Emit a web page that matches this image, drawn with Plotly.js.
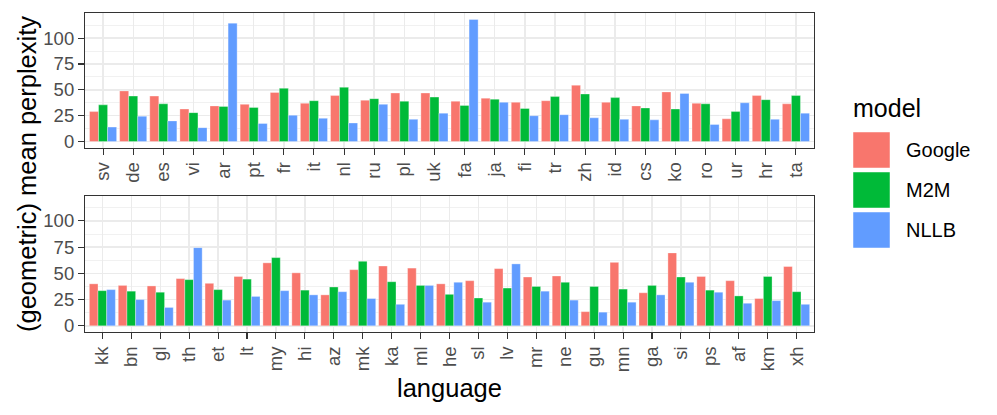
<!DOCTYPE html>
<html>
<head>
<meta charset="utf-8">
<script src="https://cdn.plot.ly/plotly-3.0.1.min.js"></script>
<style>html,body{margin:0;padding:0;background:#fff;}</style>
</head>
<body>
<div id="chart" style="width:997px;height:415px;"></div>
<script>
// ---- data ----
const models = ["Google", "M2M", "NLLB"];
const modelColors = ["#F8766D", "#00BA38", "#619CFF"];

const langsTop = ["sv","de","es","vi","ar","pt","fr","it","nl","ru","pl","uk","fa","ja","fi","tr","zh","id","cs","ko","ro","ur","hr","ta"];
const googleTop = [29, 49, 44, 31.5, 34.5, 36, 47.5, 37, 44.5, 40, 47, 47, 39, 42, 38, 39.5, 54.5, 38, 34.5, 48, 37, 22, 44.5, 36.5];
const m2mTop    = [35.5, 44, 36.5, 28, 34, 33, 51.5, 39.5, 52.5, 41.5, 39, 43, 35, 41, 32, 43.5, 46, 42.5, 32.5, 31.5, 36.5, 29, 40.5, 44.5];
const nllbTop   = [14, 24.5, 20, 13.5, 114.5, 17.5, 25.5, 22.5, 18, 36, 21.5, 27.5, 118, 38, 25, 26, 23, 21.5, 21, 46.5, 16.5, 37.5, 21.5, 27.5];

const langsBot = ["kk","bn","gl","th","et","lt","my","hi","az","mk","ka","ml","he","sl","lv","mr","ne","gu","mn","ga","si","ps","af","km","xh"];
const googleBot = [40, 38.5, 38, 45, 40.5, 47, 60, 50.5, 29.5, 53.5, 57, 55, 40, 43, 54.5, 46.5, 47.5, 13.5, 60.5, 31.5, 69.5, 47, 43, 26, 56.5];
const m2mBot    = [33.5, 33, 32, 44, 34.5, 44.5, 65, 34, 37, 61.5, 42, 38.5, 30, 26.5, 36, 37.5, 41.5, 37.5, 35, 38.5, 46.5, 34, 28.5, 47, 32.5];
const nllbBot   = [34.5, 25, 17.5, 74.5, 24.5, 28, 33.5, 29.5, 32.5, 26, 20.5, 38.5, 41.5, 22.5, 59, 33, 24.5, 13, 22.5, 29.5, 41.5, 32, 21.5, 24, 20.5];

const yTicks = [0, 25, 50, 75, 100];
const yMinor = [12.5, 37.5, 62.5, 87.5, 112.5];

// ---- geometry helpers (pixel -> paper) ----
const W = 997, H = 415;
const M = {l: 85, r: 183, t: 13, b: 83};
const PW = W - M.l - M.r, PH = H - M.t - M.b;
const px = x => (x - M.l) / PW;
const py = y => (H - M.b - y) / PH;

const gridC = "#EBEBEB", lineC = "#333333", tickTxt = "#4D4D4D";
const FONT = "Liberation Sans, Arial, sans-serif";
const TICK_SIZE = 18.5, TITLE_SIZE = 25.5;

const traces = [];
const topSeries = [googleTop, m2mTop, nllbTop];
const botSeries = [googleBot, m2mBot, nllbBot];
models.forEach((m, i) => {
  traces.push({type: "bar", name: m, x: langsTop, y: topSeries[i], xaxis: "x", yaxis: "y",
    marker: {color: modelColors[i], line: {color: "rgba(255,255,255,0.55)", width: 0.6}},
    showlegend: false, hoverinfo: "x+y+name"});
  traces.push({type: "bar", name: m, x: langsBot, y: botSeries[i], xaxis: "x2", yaxis: "y2",
    marker: {color: modelColors[i], line: {color: "rgba(255,255,255,0.55)", width: 0.6}},
    showlegend: false, hoverinfo: "x+y+name"});
});

function xAxis(n, anchor) {
  return {
    domain: [0, 1], anchor: anchor, type: "category",
    range: [-0.6, n - 1 + 0.6],
    tickangle: -90, ticks: "outside", ticklen: 6, tickcolor: lineC, tickwidth: 1.1,
    tickfont: {size: TICK_SIZE, color: tickTxt, family: FONT},
    showgrid: true, gridcolor: gridC, gridwidth: 1.4,
    showline: true, mirror: true, linecolor: lineC, linewidth: 1.1,
    zeroline: false, fixedrange: true
  };
}
function yAxis(domain, anchor) {
  return {
    domain: domain, anchor: anchor, range: [-5.9, 124],
    tickvals: yTicks, ticktext: yTicks.map(String),
    ticks: "outside", ticklen: 6, tickcolor: lineC, tickwidth: 1.1,
    tickfont: {size: TICK_SIZE, color: tickTxt, family: FONT},
    showgrid: true, gridcolor: gridC, gridwidth: 1.4,
    minor: {tickvals: yMinor, showgrid: true, gridcolor: gridC, gridwidth: 0.7, ticks: ""},
    showline: true, mirror: true, linecolor: lineC, linewidth: 1.1,
    zeroline: false, fixedrange: true
  };
}

const shapes = [];
const annotations = [];
// custom legend
const keyTops = [132, 172, 212];
models.forEach((m, i) => {
  shapes.push({type: "rect", xref: "paper", yref: "paper",
    x0: px(853), x1: px(890), y0: py(keyTops[i] + 36), y1: py(keyTops[i]),
    fillcolor: modelColors[i], line: {color: "rgba(255,255,255,0.6)", width: 0.8}});
  annotations.push({xref: "paper", yref: "paper", x: px(904), y: py(keyTops[i] + 18),
    xanchor: "left", yanchor: "middle", text: m, showarrow: false,
    font: {size: 20, color: "#000", family: FONT}});
});
annotations.push({xref: "paper", yref: "paper", x: px(851), y: py(108),
  xanchor: "left", yanchor: "middle", text: "model", showarrow: false,
  font: {size: 25, color: "#000", family: FONT}});
// axis titles
annotations.push({xref: "paper", yref: "paper", x: px(27), y: py(174),
  xanchor: "center", yanchor: "middle", textangle: -90,
  text: "(geometric) mean perplexity", showarrow: false,
  font: {size: TITLE_SIZE, color: "#000", family: FONT}});
annotations.push({xref: "paper", yref: "paper", x: px(449.5), y: py(388),
  xanchor: "center", yanchor: "middle", text: "language", showarrow: false,
  font: {size: TITLE_SIZE, color: "#000", family: FONT}});

const layout = {
  width: W, height: H,
  margin: M,
  paper_bgcolor: "#fff", plot_bgcolor: "#fff",
  barmode: "group", bargap: 0.1, bargroupgap: 0,
  showlegend: false,
  font: {family: FONT},
  xaxis: xAxis(langsTop.length, "y"),
  yaxis: yAxis([py(147.7), py(13.3)], "x"),
  xaxis2: xAxis(langsBot.length, "y2"),
  yaxis2: yAxis([py(332), py(195.7)], "x2"),
  shapes: shapes,
  annotations: annotations
};

Plotly.newPlot("chart", traces, layout, {displayModeBar: false, staticPlot: true});
</script>
</body>
</html>
